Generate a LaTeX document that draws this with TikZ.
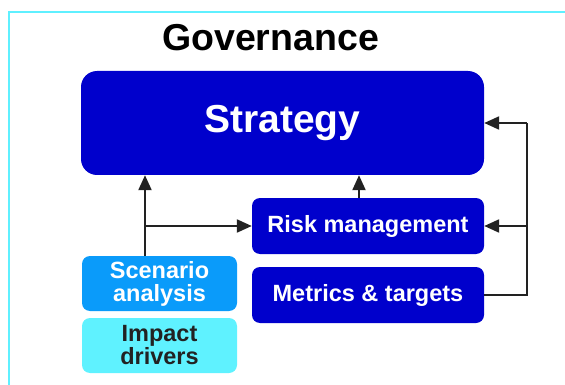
\documentclass[tikz,border=0pt]{standalone}
\usepackage{fontspec}
\setmainfont{Liberation Sans}
\usetikzlibrary{arrows.meta}
\definecolor{govcyan}{HTML}{5FF0FF}
\definecolor{deepblue}{HTML}{0000CC}
\definecolor{skyblue}{HTML}{0A9BFA}
\definecolor{paleblue}{HTML}{5FF2FF}
\definecolor{inkgray}{HTML}{222222}
\begin{document}
\begin{tikzpicture}[x=1pt,y=-1pt,
	bluebox/.style = {fill = deepblue, text = white, rounded corners = 8pt, font = \bfseries\fontsize{23.5}{24}\selectfont, align = center, inner sep = 0pt},
	sidebox/.style = {rounded corners = 8pt, font = \bfseries\fontsize{23.5}{23}\selectfont, align = center, inner sep = 0pt, minimum width = 155pt, minimum height = 55pt},
	flow/.style = {draw = inkgray, line width = 2.2pt, -{Triangle[length = 15pt, width = 13pt]}},
	plain/.style = {draw = inkgray, line width = 2.2pt}]
	\useasboundingbox (0,0) rectangle (565,385);
	\draw [govcyan, line width = 2.2pt] (9,385) -- (9,12) -- (565,12);
	\node (gov) at (270.5,38) {\bfseries\fontsize{37.5}{40}\selectfont Governance};
	\node [bluebox, rounded corners = 16pt, minimum width = 403pt, minimum height = 104pt, font = \bfseries\fontsize{39}{42}\selectfont] (strategy) at (282.5,123) {Strategy};
	\node [bluebox, minimum width = 232pt, minimum height = 56pt] (risk) at (368,226) {Risk management};
	\node [bluebox, minimum width = 232pt, minimum height = 56pt] (metrics) at (368,295) {Metrics \& targets};
	\node [sidebox, fill = skyblue, text = white] (scenario) at (159.5,283.5) {Scenario\\analysis};
	\node [sidebox, fill = paleblue, text = inkgray] (impact) at (159.5,345.5) {Impact\\drivers};
	\coordinate (split) at (145,226);
	\coordinate (riskup) at (359,226);
	\coordinate (loop) at (527,226);
	\draw [flow] (scenario.north -| split) -- (strategy.south -| split);
	\draw [flow] (split) -- (risk.west);
	\draw [flow] (risk.north -| riskup) -- (strategy.south -| riskup);
	\draw [plain] (metrics.east) -| (loop) -- (loop |- strategy.east);
	\draw [flow] (loop |- strategy.east) -- (strategy.east);
	\draw [flow] (loop) -- (risk.east);
\end{tikzpicture}
\end{document}
